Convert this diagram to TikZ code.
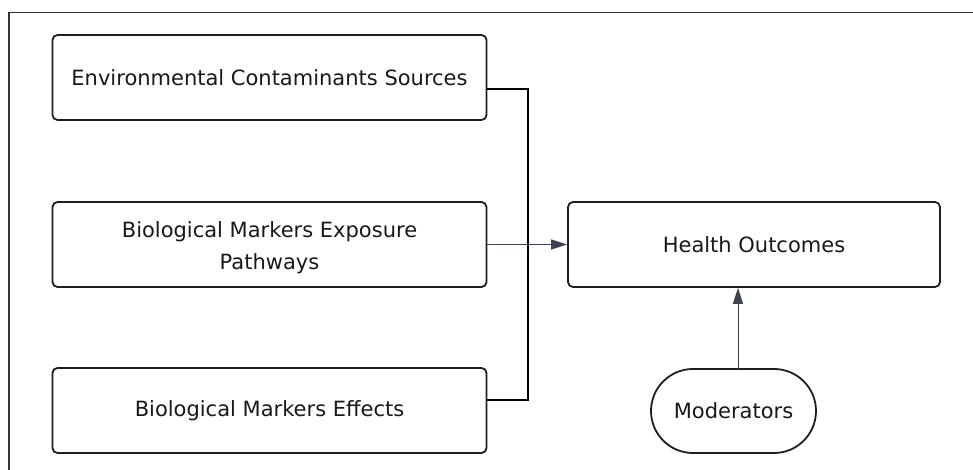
\documentclass[tikz,border=0pt]{standalone}
\usepackage{fontspec}
\setmainfont{DejaVu Sans}
\usetikzlibrary{arrows.meta}
\definecolor{boxline}{HTML}{1F1F1F}
\definecolor{slate}{HTML}{3B4252}
\definecolor{frameline}{HTML}{333333}
\tikzset{
  txt/.style={inner sep=0pt, align=center, text=black!90,
    font=\fontsize{21bp}{32bp}\selectfont},
  rbox/.style={txt, draw=boxline, line width=1.8bp, rounded corners=5bp, fill=white,
    minimum width=434bp, minimum height=85bp},
  hbox/.style={rbox, minimum width=372bp},
  pill/.style={txt, draw=boxline, line width=1.8bp, rounded corners=42bp, fill=white,
    minimum width=165bp, minimum height=84bp},
  bus/.style={draw=black, line width=2bp},
  flow/.style={draw=slate, line width=1bp, -{Triangle[length=16bp,width=10bp]}, fill=slate}
}
\begin{document}
\begin{tikzpicture}[x=1bp,y=-1bp]
\useasboundingbox (0,0) rectangle (973,470);
\fill[white] (0,0) rectangle (973,470);
\draw[frameline, line width=1.5bp] (973,12.5) -- (9,12.5) -- (9,470);

\node[rbox] (src) at (269.5,77.5) {Environmental Contaminants Sources};
\node[rbox] (exp) at (269.5,244.5) {};
\node[txt] (explabel) at ([yshift=-3bp]exp.center) {Biological Markers Exposure\\Pathways};
\node[rbox] (eff) at (269.5,410.5) {Biological Markers Effects};
\node[hbox] (out) at (754,244.5) {Health Outcomes};
\node[pill] (mod) at (733.5,411) {Moderators};

\coordinate (j1) at (528,89);
\coordinate (j3) at (528,400);
\draw[bus] (src.east |- j1) -- (j1) -- (j3) -- (eff.east |- j3);

\draw[flow] (exp.east) -- (out.west);
\coordinate (mtop) at (738,369);
\draw[flow] (mtop) -- (mtop |- out.south);
\end{tikzpicture}
\end{document}
